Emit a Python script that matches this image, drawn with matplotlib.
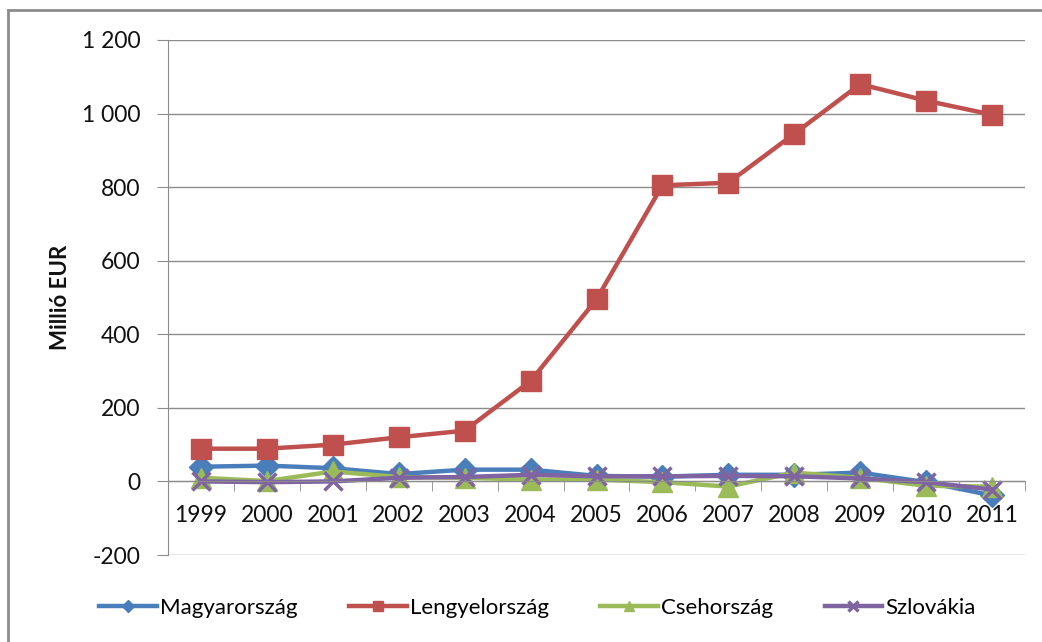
"""Közvetlen tőkebefektetések, 1999-2011 (millió EUR) - vonaldiagram négy országra."""
import matplotlib
matplotlib.use("Agg")
import matplotlib.pyplot as plt
from matplotlib.lines import Line2D
from matplotlib.ticker import FuncFormatter

years = [str(y) for y in range(1999, 2012)]

magyarorszag = [40, 43, 36, 20, 32, 32, 15, 13, 18, 18, 24, -2, -38]
lengyelorszag = [89, 89, 100, 120, 138, 273, 495, 805, 812, 945, 1080, 1035, 997]
csehorszag = [10, 1, 27, 12, 10, 5, 5, -2, -14, 24, 10, -12, -14]
szlovakia = [0, -2, 0, 10, 12, 18, 14, 14, 15, 14, 8, -2, -22]

series = [
    ("Magyarország", magyarorszag, "#4A7EBB", "D", 12),
    ("Lengyelország", lengyelorszag, "#C0504D", "s", 14),
    ("Csehország", csehorszag, "#9BBB59", "^", 14),
    ("Szlovákia", szlovakia, "#8064A2", "x", 13),
]

plt.rcParams["font.family"] = ["Lato", "DejaVu Sans"]

fig = plt.figure(figsize=(10.42, 6.42), dpi=100)
ax = fig.add_axes([168 / 1042, 1 - 555 / 642, (1025 - 168) / 1042, (555 - 40) / 642])

x = list(range(len(years)))
for name, vals, col, mk, ms in series:
    kw = dict(markeredgewidth=2.5) if mk == "x" else dict(markeredgecolor=col)
    ax.plot(x, vals, color=col, linewidth=3.2, marker=mk, markersize=ms,
            label=name, **kw)

ax.set_xlim(-0.5, len(years) - 0.5)
ax.set_ylim(-200, 1200)
ax.set_yticks(range(-200, 1201, 200))
ax.yaxis.set_major_formatter(
    FuncFormatter(lambda v, _: f"{int(v):,}".replace(",", " ")))
ax.grid(axis="y", color="#8c8c8c", linewidth=1.0)
ax.set_axisbelow(True)

for s in ("top", "right"):
    ax.spines[s].set_visible(False)
ax.spines["left"].set_color("#8c8c8c")
ax.spines["bottom"].set_color("#8c8c8c")
ax.spines["bottom"].set_position(("data", 0))

ax.set_xticks(x)
ax.set_xticklabels(years)
ax.set_xticks([i - 0.5 for i in range(len(years) + 1)], minor=True)
ax.tick_params(axis="x", which="major", length=0, pad=17, labelsize=16.5,
               labelcolor="#111111")
ax.tick_params(axis="x", which="minor", length=7, color="#8c8c8c", direction="out")
ax.tick_params(axis="y", length=8, color="#8c8c8c", labelsize=16.5, pad=12,
               labelcolor="#111111")

ax.set_ylabel("Millió EUR", fontsize=16, fontweight="bold", color="#111111")
ax.yaxis.set_label_coords((71 - 168) / 857, 0.5)

leg = fig.legend(loc="center", bbox_to_anchor=(0.516, 1 - 608 / 642), ncol=4,
                 frameon=False, fontsize=16, handlelength=2.6, handletextpad=0.15,
                 columnspacing=2.3, markerscale=0.55)

# outer chart frame (only left and top edges visible)
fig.add_artist(Line2D([8 / 1042, 8 / 1042], [0, 1 - 10 / 642],
                      transform=fig.transFigure, color="#8c8c8c", linewidth=2))
fig.add_artist(Line2D([8 / 1042, 1], [1 - 10 / 642, 1 - 10 / 642],
                      transform=fig.transFigure, color="#8c8c8c", linewidth=2))

fig.savefig("out.png", dpi=100)
